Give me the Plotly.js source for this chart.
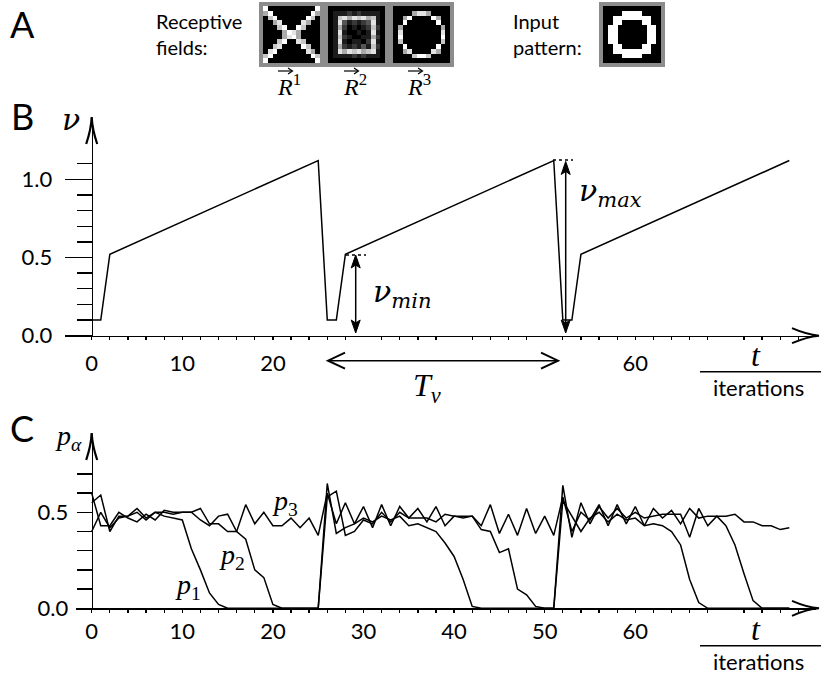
<!DOCTYPE html>
<html><head><meta charset="utf-8">
<script src="https://cdn.plot.ly/plotly-3.0.1.min.js"></script>
<style>html,body{margin:0;padding:0;background:#fff}#chart{width:821px;height:677px}</style>
</head><body><div id="chart"></div>
<script>
// ---------------- data ----------------
const nuT = [0, 1, 2, 25, 26, 27, 28, 51, 52, 53, 54, 77];
const nuV = [0.1, 0.1, 0.52, 1.12, 0.1, 0.1, 0.52, 1.12, 0.1, 0.1, 0.52, 1.12];

const pT = [0,1,2,3,4,5,6,7,8,9,10,11,12,13,14,15,16,17,18,19,20,21,22,23,24,25,26,27,28,29,30,31,32,33,34,35,36,37,38,39,40,41,42,43,44,45,46,47,48,49,50,51,52,53,54,55,56,57,58,59,60,61,62,63,64,65,66,67,68,69,70,71,72,73,74,75,76,77];
const p1 = [
0.40,0.50,0.42,0.47,0.48,0.50,0.46,0.50,0.48,0.47,
0.46,0.31,0.20,0.08,0.02,0.00,0.00,0.00,0.00,0.00,
0.00,0.00,0.00,0.00,0.00,0.00,0.65,0.39,0.42,0.44,
0.47,0.45,0.48,0.46,0.48,0.43,0.44,0.42,0.40,0.34,
0.27,0.15,0.01,0.00,0.00,0.00,0.00,0.00,0.00,0.00,
0.00,0.00,0.56,0.48,0.40,0.47,0.50,0.45,0.49,0.46,
0.47,0.43,0.44,0.43,0.40,0.33,0.15,0.03,0.00,0.00,
0.00,0.00,0.00,0.00,0.00,0.00,0.00,0.00];
const p2 = [
0.60,0.43,0.43,0.50,0.47,0.45,0.49,0.46,0.51,0.50,
0.50,0.50,0.46,0.43,0.48,0.49,0.40,0.36,0.20,0.16,
0.02,0.00,0.00,0.00,0.00,0.00,0.58,0.61,0.38,0.40,
0.46,0.44,0.50,0.45,0.50,0.47,0.47,0.47,0.45,0.49,
0.48,0.48,0.48,0.41,0.40,0.29,0.31,0.10,0.07,0.01,
0.00,0.00,0.64,0.37,0.55,0.44,0.53,0.47,0.52,0.47,
0.50,0.47,0.48,0.49,0.49,0.49,0.37,0.52,0.43,0.48,
0.43,0.33,0.18,0.04,0.00,0.00,0.00,0.00];
const p3 = [
0.55,0.59,0.40,0.48,0.48,0.52,0.47,0.50,0.50,0.49,
0.50,0.50,0.52,0.44,0.44,0.40,0.40,0.54,0.44,0.50,
0.43,0.43,0.47,0.42,0.47,0.38,0.60,0.44,0.55,0.44,
0.53,0.42,0.54,0.43,0.53,0.47,0.52,0.45,0.53,0.43,
0.48,0.47,0.48,0.43,0.54,0.39,0.49,0.38,0.52,0.39,
0.48,0.38,0.58,0.40,0.50,0.46,0.54,0.43,0.54,0.44,
0.53,0.43,0.52,0.47,0.51,0.44,0.52,0.47,0.48,0.48,
0.48,0.49,0.45,0.45,0.43,0.43,0.41,0.42];

const bXTickVals = [0, 10, 20, 60];
const bXTickText = ['0', '10', '20', '60'];
const bYTickVals = [0, 0.5, 1.0];
const bYTickText = ['0.0', '0.5', '1.0'];
const cXTickVals = [0, 10, 20, 30, 40, 50, 60];
const cXTickText = ['0', '10', '20', '30', '40', '50', '60'];
const cYTickVals = [0, 0.5];
const cYTickText = ['0.0', '0.5'];
const bYMinor = [0.1,0.2,0.3,0.4,0.6,0.7,0.8,0.9,1.1];
const cYMinor = [0.1,0.2,0.3,0.4,0.6,0.7];

// receptive field images (intensity 0-9)
const field1 = [
"900000000009",
"690000000096",
"079000000970",
"006800008600",
"000790097000",
"000069860000",
"000068960000",
"000790087000",
"007800009700",
"089000000860",
"790000000097",
"900000000009"];
const field2 = [
"000000000000",
"011121211110",
"017868786710",
"018312123810",
"016201012720",
"018100101810",
"017210011620",
"018101102810",
"016212131720",
"018687867810",
"011112121110",
"000000000000"];
const field3 = [
"000000000000",
"000068860000",
"006900009600",
"009000000900",
"060000000060",
"080000000080",
"090000000090",
"070000000070",
"009000000900",
"006800008600",
"000079970000",
"000000000000"];
const inputPattern = [
"000000000000",
"000099990000",
"009999999900",
"009900009900",
"099000000990",
"099000000990",
"099000000990",
"099000000990",
"009900009900",
"009999999900",
"000099990000",
"000000000000"];

// ---------------- geometry helpers ----------------
const W = 821, H = 677;
const X = px => px / W, Y = py => 1 - py / H;
const pt = (x, y) => X(x).toFixed(5) + ',' + Y(y).toFixed(5);
const T0 = 91.7, TS = 9.06;          // t=0 pixel, px per iteration
const B0 = 335.7, BS = 156.4;        // panel B: y=0 pixel, px per unit
const C0 = 608.3, CS = 192;          // panel C
const SANS = 'Lato, "Open Sans", sans-serif';
const SERIF = '"Liberation Serif", "DejaVu Serif", serif';
const GREEK = '"DejaVu Serif", "Liberation Serif", serif';

function toZ(rows){ return rows.map(r => r.split('').map(Number)); }

const traces = [
  {x: nuT, y: nuV, xaxis: 'x', yaxis: 'y', type: 'scatter', mode: 'lines',
   line: {color: 'black', width: 1.5}, cliponaxis: false, hoverinfo: 'skip'},
  {x: pT, y: p1, xaxis: 'x2', yaxis: 'y2', type: 'scatter', mode: 'lines',
   line: {color: 'black', width: 1.5}, cliponaxis: false},
  {x: pT, y: p2, xaxis: 'x2', yaxis: 'y2', type: 'scatter', mode: 'lines',
   line: {color: 'black', width: 1.5}, cliponaxis: false},
  {x: pT, y: p3, xaxis: 'x2', yaxis: 'y2', type: 'scatter', mode: 'lines',
   line: {color: 'black', width: 1.5}, cliponaxis: false}
];
const imgs = [field1, field2, field3, inputPattern];
imgs.forEach((g, i) => {
  traces.push({type: 'heatmap', z: toZ(g), xaxis: 'x' + (i + 3), yaxis: 'y' + (i + 3),
    colorscale: [[0, 'black'], [1, 'white']], zmin: 0, zmax: 9, showscale: false, hoverinfo: 'skip'});
});

function minorX(){ const a = []; for (let v = 2; v <= 78; v += 2) if (v % 10) a.push(v); return a; }

const tickfont = {family: SANS, size: 22, color: 'black'};
const layout = {
  width: W, height: H, margin: {l: 0, r: 0, t: 0, b: 0},
  paper_bgcolor: 'white', plot_bgcolor: 'rgba(0,0,0,0)', showlegend: false,
  font: {family: SANS, color: 'black'},
  xaxis: {domain: [X(65), X(816)], range: [(65 - T0) / TS, (816 - T0) / TS], anchor: 'y',
    showline: true, linecolor: 'black', linewidth: 1.6, showgrid: false, zeroline: false,
    tickmode: 'array', tickvals: bXTickVals, ticktext: bXTickText, ticks: 'outside',
    ticklen: 3, tickwidth: 1.3, tickcolor: 'black', tickfont: tickfont, ticklabelstandoff: 4,
    minor: {tickmode: 'array', tickvals: minorX(), ticks: 'outside', ticklen: 3, tickwidth: 1.3, tickcolor: 'black'}},
  yaxis: {domain: [Y(B0), Y(119)], range: [0, (B0 - 119) / BS], anchor: 'free', position: X(T0),
    showline: true, linecolor: 'black', linewidth: 1.6, showgrid: false, zeroline: false,
    tickmode: 'array', tickvals: bYTickVals, ticktext: bYTickText, ticks: 'outside',
    ticklen: 27, tickwidth: 1.3, tickcolor: 'black', tickfont: tickfont, ticklabelstandoff: 8,
    minor: {tickmode: 'array', tickvals: bYMinor, ticks: 'outside', ticklen: 15, tickwidth: 1.3, tickcolor: 'black'}},
  xaxis2: {domain: [X(76), X(816)], range: [(76 - T0) / TS, (816 - T0) / TS], anchor: 'y2',
    showline: true, linecolor: 'black', linewidth: 1.6, showgrid: false, zeroline: false,
    tickmode: 'array', tickvals: cXTickVals, ticktext: cXTickText, ticks: 'outside',
    ticklen: 3, tickwidth: 1.3, tickcolor: 'black', tickfont: tickfont, ticklabelstandoff: 0,
    minor: {tickmode: 'array', tickvals: minorX(), ticks: 'outside', ticklen: 3, tickwidth: 1.3, tickcolor: 'black'}},
  yaxis2: {domain: [Y(C0), Y(435)], range: [0, (C0 - 435) / CS], anchor: 'free', position: X(T0),
    showline: true, linecolor: 'black', linewidth: 1.6, showgrid: false, zeroline: false,
    tickmode: 'array', tickvals: cYTickVals, ticktext: cYTickText, ticks: 'outside',
    ticklen: 15, tickwidth: 1.3, tickcolor: 'black', tickfont: tickfont, ticklabelstandoff: 4,
    minor: {tickmode: 'array', tickvals: cYMinor, ticks: 'outside', ticklen: 15, tickwidth: 1.3, tickcolor: 'black'}},
  shapes: [], annotations: []
};

// image boxes
const boxes = [[263, 320], [328, 385], [393, 450], [603, 661]];
boxes.forEach((b, i) => {
  const n = i + 3;
  const ax = {showline: true, mirror: true, linecolor: '#8c8c8c', linewidth: 4, showgrid: false,
    zeroline: false, showticklabels: false, ticks: '', fixedrange: true};
  layout['xaxis' + n] = Object.assign({}, ax, {domain: [X(b[0]), X(b[1])], range: [-0.5, 11.5], anchor: 'y' + n});
  layout['yaxis' + n] = Object.assign({}, ax, {domain: [Y(63), Y(6)], range: [11.5, -0.5], anchor: 'x' + n});
});

// shapes helpers
const S = layout.shapes;
function seg(x0, y0, x1, y1, w, dash){
  S.push({type: 'line', xref: 'paper', yref: 'paper', x0: X(x0), y0: Y(y0), x1: X(x1), y1: Y(y1),
    line: {color: 'black', width: w || 1.5, dash: dash || 'solid'}});
}
function pathShape(d, w, fill){
  S.push({type: 'path', xref: 'paper', yref: 'paper', path: d,
    line: {color: 'black', width: w}, fillcolor: fill || 'rgba(0,0,0,0)'});
}
function xAxisArrow(tip, y){
  pathShape(`M ${pt(tip - 27, y - 7.5)} Q ${pt(tip - 12, y - 1)} ${pt(tip, y)} Q ${pt(tip - 12, y + 1)} ${pt(tip - 27, y + 7.5)}`, 2);
  seg(816, y, tip - 1, y, 1.6);
}
function yAxisArrow(x, tip, bottom){
  pathShape(`M ${pt(x - 5.5, tip + 27)} Q ${pt(x - 0.5, tip + 12)} ${pt(x, tip)} Q ${pt(x + 0.5, tip + 12)} ${pt(x + 5.5, tip + 27)}`, 2.2);
  seg(x, bottom, x, tip + 1, 1.6);
}
function stealth(x, tip, dir){ // dir=+1 pointing up, -1 pointing down
  const s = dir;
  pathShape(`M ${pt(x, tip)} L ${pt(x - 4.5, tip + s * 13)} L ${pt(x, tip + s * 10)} L ${pt(x + 4.5, tip + s * 13)} Z`, 1, 'black');
}
function chevron(tipx, y, dir){ // dir=+1 pointing right
  pathShape(`M ${pt(tipx - dir * 17, y - 8)} L ${pt(tipx, y)} L ${pt(tipx - dir * 17, y + 8)}`, 2);
}
function vecArrow(cx, y){ // small vector arrow over R
  seg(cx - 7, y, cx + 7, y, 1.2);
  pathShape(`M ${pt(cx + 3, y - 3)} L ${pt(cx + 7.5, y)} L ${pt(cx + 3, y + 3)}`, 1.2);
}

// axis arrows
xAxisArrow(819, B0);
xAxisArrow(819, C0);
yAxisArrow(T0, 117, 125);
yAxisArrow(T0, 433, 440);

// nu_min / nu_max double arrows
seg(355.7, 258, 355.7, 330, 1.5); stealth(355.7, 255, 1); stealth(355.7, 333, -1);
seg(565.7, 164, 565.7, 330, 1.5); stealth(565.7, 161.5, 1); stealth(565.7, 333, -1);
seg(346, 255, 366, 255, 1.5, 'dot');
seg(553, 160, 573, 160, 1.5, 'dot');
// T_nu arrow
seg(329, 360.7, 557, 360.7, 1.6); chevron(328, 360.7, -1); chevron(558, 360.7, 1);
// fraction lines
seg(700, 371.7, 821, 371.7, 1.6);
seg(700, 645.7, 821, 645.7, 1.6);

// annotations
const A = layout.annotations;
function txt(x, y, text, size, family, xanchor){
  A.push({xref: 'paper', yref: 'paper', x: X(x), y: Y(y), text: text, showarrow: false,
    font: {size: size, family: family, color: 'black'}, xanchor: xanchor || 'center', yanchor: 'middle',
    align: xanchor || 'center'});
}
txt(22, 24, 'A', 36, SANS);
txt(22, 116, 'B', 36, SANS);
txt(22, 428, 'C', 36, SANS);
txt(154, 34, 'Receptive<br>fields:', 20, SANS, 'left');
txt(511, 34, 'Input<br>pattern:', 20, SANS, 'left');
[[289, '1'], [355, '2'], [419, '3']].forEach(r => {
  txt(r[0], 85, '<i>R</i><sup>' + r[1] + '</sup>', 24, SERIF);
  vecArrow(r[0] - 4, 71);
});
txt(71, 120, '<i>ν</i>', 30, GREEK);
txt(68, 438, '<i>p</i><sub><i>α</i></sub>', 28, SERIF);
txt(402, 293, '<i>ν</i><sub><i>min</i></sub>', 30, GREEK);
txt(610, 193, '<i>ν</i><sub><i>max</i></sub>', 30, GREEK);
txt(427, 387, '<i>T</i><sub><i>ν</i></sub>', 32, SERIF);
txt(756, 355, '<i>t</i>', 32, SERIF);
txt(758, 387, 'iterations', 22, SANS);
txt(756, 629, '<i>t</i>', 32, SERIF);
txt(758, 661, 'iterations', 22, SANS);
txt(285, 502, '<i>p</i><sub>3</sub>', 28, SERIF);
txt(232, 556, '<i>p</i><sub>2</sub>', 28, SERIF);
txt(188, 586, '<i>p</i><sub>1</sub>', 28, SERIF);

Plotly.newPlot('chart', traces, layout, {staticPlot: true, displayModeBar: false});
</script></body></html>
